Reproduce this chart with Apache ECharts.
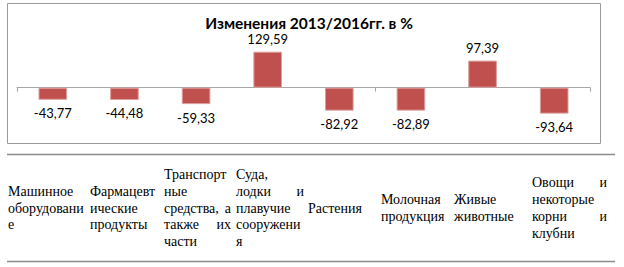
<!DOCTYPE html>
<html>
<head>
<meta charset="utf-8">
<script src="https://cdn.jsdelivr.net/npm/echarts@6/dist/echarts.min.js"></script>
<style>
html,body{margin:0;padding:0;background:#fff;}
#chart{width:624px;height:267px;}
</style>
</head>
<body>
<div id="chart"></div>
<script>
// ---- data ----
const titleText = 'Изменения 2013/2016гг. в %';
const categories = [
  'Машинное оборудование',
  'Фармацевтические продукты',
  'Транспортные средства, а также их части',
  'Суда, лодки и плавучие сооружения',
  'Растения',
  'Молочная продукция',
  'Живые животные',
  'Овощи и некоторые корни и клубни'
];
const values = [-43.77, -44.48, -59.33, 129.59, -82.92, -82.89, 97.39, -93.64];
// category names as wrapped in the table below the chart
const tableLines = [
  ['Машинное', 'оборудовани', 'е'],
  ['Фармацевт', 'ические', 'продукты'],
  ['Транспорт', 'ные', 'средства, а', 'также их', 'части'],
  ['Суда,', 'лодки и', 'плавучие', 'сооружени', 'я'],
  ['Растения'],
  ['Молочная', 'продукция'],
  ['Живые', 'животные'],
  ['Овощи и', 'некоторые', 'корни и', 'клубни']
];

// ---- layout ----
const colLeft = [8, 90, 164, 236, 308, 381, 454, 532];
const colRight = [86, 160, 231, 304, 376, 450, 528, 607];
const tableCenterY = 208;
const lineH = 16.7;
const tableFont = '14px "Liberation Serif"';

const measureCtx = document.createElement('canvas').getContext('2d');
measureCtx.font = tableFont;

const graphics = [];
// chart frame
graphics.push({type:'rect', shape:{x:7.5, y:3.5, width:593, height:140},
  style:{fill:null, stroke:'#9A9A9A', lineWidth:1}, silent:true});
// table rules
[154.5, 261.5].forEach(y => graphics.push({type:'line', shape:{x1:7, y1:y, x2:615, y2:y},
  style:{stroke:'#8C8C8C', lineWidth:1.5}, silent:true}));

tableLines.forEach((lines, c) => {
  const n = lines.length;
  lines.forEach((ln, i) => {
    const y = tableCenterY + (i - (n - 1) / 2) * lineH;
    const words = ln.split(' ');
    const justify = words.length > 1 && i < n - 1;
    if (!justify) {
      graphics.push({type:'text', x: colLeft[c], y: y, silent:true,
        style:{text: ln, font: tableFont, fill:'#000', textAlign:'left', textVerticalAlign:'middle'}});
    } else {
      const widths = words.map(w => measureCtx.measureText(w).width);
      const total = widths.reduce((a, b) => a + b, 0);
      const gap = (colRight[c] - colLeft[c] - total) / (words.length - 1);
      let x = colLeft[c];
      words.forEach((w, k) => {
        graphics.push({type:'text', x: x, y: y, silent:true,
          style:{text: w, font: tableFont, fill:'#000', textAlign:'left', textVerticalAlign:'middle'}});
        x += widths[k] + gap;
      });
    }
  });
});

const chart = echarts.init(document.getElementById('chart'), null, {renderer:'svg', width:624, height:267});
chart.setOption({
  animation: false,
  backgroundColor: '#fff',
  title: {
    text: titleText, left: 304, top: 10, textAlign: 'center',
    textStyle: {fontFamily: 'Lato', fontWeight: 'bold', fontSize: 15.5, color: '#000'}
  },
  grid: {left: 17, right: 34, top: 46, bottom: 151.6},
  xAxis: {
    type: 'category', data: categories,
    axisLine: {onZero: true, lineStyle: {color: '#A6A6A6', width: 1}},
    axisTick: {show: true, length: 4, lineStyle: {color: '#A6A6A6'}},
    axisLabel: {show: false},
    splitLine: {show: false}
  },
  yAxis: {
    type: 'value', min: -100, max: 150, show: false,
    splitLine: {show: false}
  },
  series: [{
    type: 'bar', barWidth: '40%',
    data: values.map(v => ({value: v, label: v < 0 ? {position: 'bottom', distance: 7} : {position: 'top', distance: 6}})),
    itemStyle: {color: '#C0504D', borderColor: '#DDA09E', borderWidth: 1},
    label: {
      show: true,
      formatter: p => String(p.value).replace('.', ','),
      fontFamily: 'Lato', fontSize: 13, color: '#000'
    }
  }],
  graphic: graphics
});
</script>
</body>
</html>
